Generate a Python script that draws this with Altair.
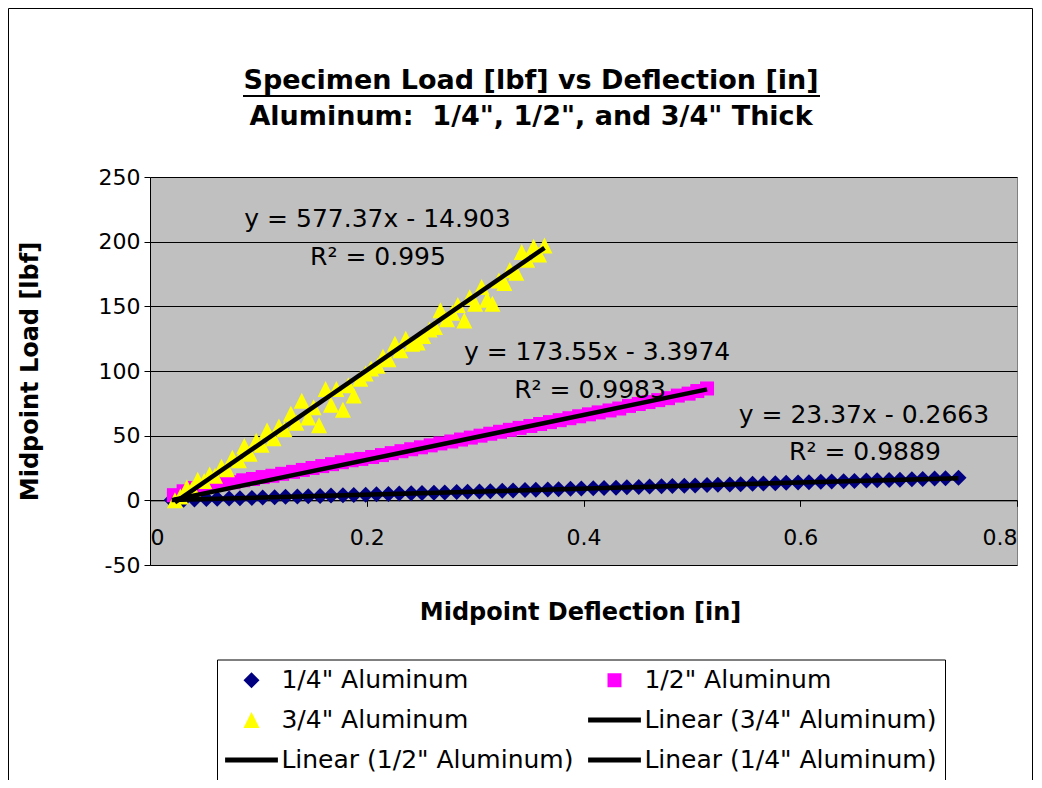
import altair as alt
import pandas as pd

# ---------------- data ----------------
series_names = ['1/4" Aluminum', '1/2" Aluminum', '3/4" Aluminum',
                'Linear (3/4" Aluminum)', 'Linear (1/2" Aluminum)', 'Linear (1/4" Aluminum)']
series_colors = ["#000080", "#FF00FF", "#FFFF00", "#000000", "#000000", "#000000"]
# legend fills column by column: this order gives the reference's row layout
legend_order = [0, 2, 4, 1, 3, 5]

# 1/4" Aluminum (diamonds)
x_quarter = [0.020, 0.031, 0.041, 0.052, 0.062, 0.073, 0.083, 0.094, 0.104, 0.115,
             0.125, 0.136, 0.146, 0.157, 0.167, 0.178, 0.188, 0.199, 0.209, 0.220,
             0.230, 0.241, 0.251, 0.262, 0.272, 0.283, 0.293, 0.304, 0.314, 0.325,
             0.335, 0.346, 0.356, 0.367, 0.377, 0.388, 0.398, 0.409, 0.419, 0.430,
             0.440, 0.451, 0.461, 0.472, 0.482, 0.493, 0.503, 0.514, 0.524, 0.535,
             0.545, 0.556, 0.566, 0.577, 0.587, 0.598, 0.608, 0.619, 0.629, 0.640,
             0.650, 0.661, 0.671, 0.682, 0.692, 0.703, 0.713, 0.724, 0.734, 0.746]
y_quarter = [0.3, 0.5, 0.7, 1.0, 1.2, 1.4, 1.7, 1.9, 2.2, 2.4,
             2.7, 2.9, 3.2, 3.4, 3.7, 3.9, 4.2, 4.4, 4.7, 4.9,
             5.2, 5.4, 5.7, 5.9, 6.1, 6.4, 6.6, 6.9, 7.1, 7.4,
             7.6, 7.9, 8.1, 8.4, 8.6, 8.9, 9.1, 9.3, 9.6, 9.8,
             10.1, 10.3, 10.6, 10.8, 11.0, 11.3, 11.5, 11.8, 12.0, 12.3,
             12.5, 12.8, 13.0, 13.3, 13.5, 13.8, 14.0, 14.3, 14.5, 14.8,
             15.0, 15.3, 15.5, 15.8, 16.0, 16.3, 16.5, 16.8, 17.0, 17.4]

# 1/2" Aluminum (squares)
x_half = [0.022, 0.031, 0.040, 0.049, 0.059, 0.068, 0.077, 0.086, 0.095, 0.104,
          0.113, 0.122, 0.132, 0.141, 0.150, 0.159, 0.168, 0.177, 0.186, 0.195,
          0.205, 0.214, 0.223, 0.232, 0.241, 0.250, 0.259, 0.268, 0.278, 0.287,
          0.296, 0.305, 0.314, 0.323, 0.332, 0.341, 0.351, 0.360, 0.369, 0.378,
          0.387, 0.396, 0.405, 0.414, 0.424, 0.433, 0.442, 0.451, 0.460, 0.469,
          0.478, 0.487, 0.497, 0.505, 0.514]
y_half = [4.0, 7.0, 9.5, 11.0, 12.0, 13.0, 14.0, 15.5, 16.5, 18.0,
          19.0, 20.5, 22.0, 23.5, 25.0, 26.5, 28.0, 29.5, 31.0, 32.0,
          33.5, 35.0, 36.5, 38.0, 39.5, 41.0, 42.5, 44.0, 45.5, 47.0,
          48.5, 50.0, 51.5, 53.0, 54.5, 56.0, 57.5, 59.0, 60.5, 62.0,
          63.5, 65.0, 66.5, 68.0, 69.5, 71.0, 73.0, 74.5, 76.0, 77.5,
          79.0, 81.0, 82.5, 84.5, 86.5]

# 3/4" Aluminum (triangles)
x_three = [0.023, 0.028, 0.034, 0.039, 0.044, 0.050, 0.055, 0.060, 0.066, 0.071,
           0.076, 0.082, 0.087, 0.092, 0.098, 0.103, 0.108, 0.114, 0.119, 0.124,
           0.130, 0.135, 0.140, 0.146, 0.151, 0.156, 0.162, 0.167, 0.172, 0.178,
           0.183, 0.188, 0.194, 0.199, 0.204, 0.210, 0.215, 0.220, 0.226, 0.231,
           0.236, 0.242, 0.247, 0.252, 0.258, 0.263, 0.268, 0.274, 0.279, 0.284,
           0.290, 0.295, 0.300, 0.306, 0.311, 0.316, 0.322, 0.327, 0.332, 0.338,
           0.343, 0.348, 0.354, 0.359, 0.364]
y_three = [0, 3, 10, 9, 16, 15, 20, 19, 26, 24,
           33, 31, 42, 36, 46, 43, 54, 48, 57, 55,
           67, 60, 77, 64, 72, 58, 86, 74, 86, 70,
           89, 81, 94, 98, 102, 104, 111, 109, 121, 116,
           125, 121, 122, 127, 132, 134, 147, 140, 145, 151,
           139, 157, 152, 165, 155, 152, 170, 168, 178, 176,
           192, 186, 196, 190, 197]

# Excel linear trendlines (as printed on the chart)
trend_names = ['Linear (1/4" Aluminum)', 'Linear (1/2" Aluminum)', 'Linear (3/4" Aluminum)']
trend_slopes = [23.37, 173.55, 577.37]
trend_intercepts = [-0.2663, -3.3974, -14.903]

eq_text = ["y = 23.37x - 0.2663", "y = 173.55x - 3.3974", "y = 577.37x - 14.903"]
eq_x = [0.6588, 0.4125, 0.2099]
eq_y = [65.8, 114.6, 217.5]
r2_text = ["R² = 0.9889", "R² = 0.9983", "R² = 0.995"]
r2_x = [0.6597, 0.406, 0.2104]
r2_y = [37.2, 85.1, 188.1]

title_lines = ["Specimen Load [lbf] vs Deflection [in]",
               'Aluminum: \u00a01/4", 1/2", and 3/4" Thick']
x_title = "Midpoint Deflection [in]"
y_title = "Midpoint Load [lbf]"
x_ticks = [0, 0.2, 0.4, 0.6, 0.8]
y_ticks = [-50, 0, 50, 100, 150, 200, 250]

# ---------------- tables ----------------
pts = pd.concat([
    pd.DataFrame({"x": x_quarter, "y": y_quarter, "series": series_names[0]}),
    pd.DataFrame({"x": x_half, "y": y_half, "series": series_names[1]}),
    pd.DataFrame({"x": x_three, "y": y_three, "series": series_names[2]}),
], ignore_index=True)

ranges = [(min(x_quarter), max(x_quarter)), (min(x_half), max(x_half)), (min(x_three), max(x_three))]
rows = []
for name, m, b, (lo, hi) in zip(trend_names, trend_slopes, trend_intercepts, ranges):
    for xv in (lo, hi):
        rows.append({"x": xv, "y": m * xv + b, "series": name})
trend = pd.DataFrame(rows)

ann = pd.DataFrame({"x": eq_x + r2_x, "y": eq_y + r2_y, "label": eq_text + r2_text})

# ---------------- chart ----------------
FONT = "DejaVu Sans"
W, H = 867, 388

diamond = "M0,-2L2,0L0,2L-2,0Z"
square = "M-1.75,-1.75L1.75,-1.75L1.75,1.75L-1.75,1.75Z"
triangle = "M0,-2L2,2L-2,2Z"
bar = "M-6.6,-0.6L6.6,-0.6L6.6,0.6L-6.6,0.6Z"
series_shapes = [diamond, square, triangle, bar, bar, bar]

dom = [series_names[i] for i in legend_order]
col_range = [series_colors[i] for i in legend_order]
shp_range = [series_shapes[i] for i in legend_order]

xs = alt.Scale(domain=[0, 0.8], nice=False, zero=False)
ys = alt.Scale(domain=[-50, 250], nice=False, zero=False)

legend = alt.Legend(
    orient="none", legendX=67, legendY=482.5, columns=2,
    labelFont=FONT, labelFontSize=25, labelColor="black", labelLimit=500,
    symbolSize=64, symbolStrokeWidth=0, symbolOpacity=1,
    symbolOffset=14, labelOffset=17.4, rowPadding=14, columnPadding=14,
    padding=8, strokeColor="black", fillColor="white",
)

x_axis = alt.Axis(values=x_ticks, labelExpr="toString(datum.value)", grid=False,
                  offset=-H * 50 / 300, tickSize=6, labelPadding=21,
                  labelFont=FONT, labelFontSize=22, labelColor="black",
                  domainColor="black", tickColor="black",
                  title=x_title, titleFont=FONT, titleFontSize=24, titleFontWeight="bold",
                  titleColor="black", titleX=430, titleY=112, titleAlign="center",
                  titleBaseline="middle")
y_axis = alt.Axis(values=y_ticks, labelExpr="toString(datum.value)", grid=True,
                  gridColor="black", gridWidth=1, tickSize=6, labelPadding=4,
                  labelFont=FONT, labelFontSize=22, labelColor="black",
                  domainColor="black", tickColor="black",
                  title=y_title, titleFont=FONT, titleFontSize=24, titleFontWeight="bold",
                  titleColor="black", titleX=-120, titleY=H / 2, titleAngle=270,
                  titleAlign="center", titleBaseline="middle")

one = pd.DataFrame({"k": [0]})
frame = alt.Chart(one).mark_rect(fillOpacity=0, stroke="black", strokeWidth=1).encode(
    x=alt.value(-141.5), x2=alt.value(882.5), y=alt.value(-168.5), y2=alt.value(700))
underline = alt.Chart(one).mark_rule(color="black", strokeWidth=2).encode(
    x=alt.value(93), x2=alt.value(670), y=alt.value(-81))

points = alt.Chart(pts).mark_point(filled=True, opacity=1, size=64, strokeWidth=0).encode(
    x=alt.X("x:Q", scale=xs, axis=x_axis),
    y=alt.Y("y:Q", scale=ys, axis=y_axis),
    color=alt.Color("series:N", title=None, legend=legend,
                    scale=alt.Scale(domain=dom, range=col_range)),
    shape=alt.Shape("series:N", title=None, legend=legend,
                    scale=alt.Scale(domain=dom, range=shp_range)),
)

lines = alt.Chart(trend).mark_line(color="black", strokeWidth=4.5).encode(
    x="x:Q", y="y:Q", detail="series:N")

labels = alt.Chart(ann).mark_text(font=FONT, fontSize=25, color="black").encode(
    x="x:Q", y="y:Q", text="label:N")

chart = alt.layer(frame, underline, points, lines, labels).properties(
    width=W, height=H,
    padding={"left": 142, "top": 169, "right": 17, "bottom": 215},
    autosize=alt.AutoSizeParams(type="none"),
    background="white",
    title=alt.TitleParams(text=title_lines, font=FONT, fontSize=27, fontWeight="bold",
                          color="black", anchor="middle", baseline="middle",
                          lineHeight=36, offset=0, dx=-52.5, dy=136),
).configure_view(fill="#C0C0C0", stroke="#808080", strokeWidth=1)

chart.save("out.html", embed_options={"renderer": "svg", "actions": False})
